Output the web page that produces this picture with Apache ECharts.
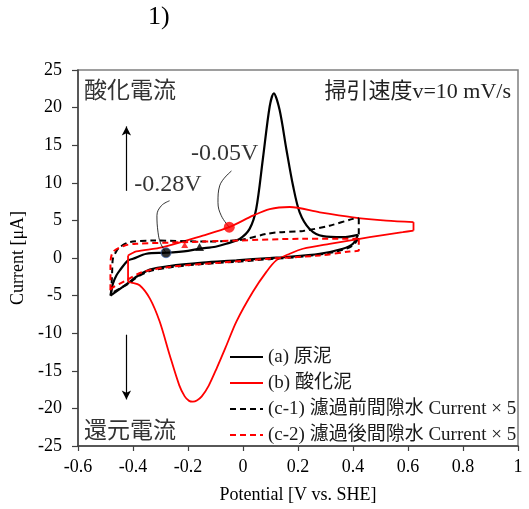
<!DOCTYPE html>
<html>
<head>
<meta charset="utf-8">
<script src="https://cdn.jsdelivr.net/npm/echarts@6/dist/echarts.min.js"></script>
<style>
  html, body { margin: 0; padding: 0; background: #fff; }
  #chart { width: 529px; height: 509px; }
</style>
</head>
<body>
<div id="chart"></div>
<script>
// ---- axis ranges: [min, max, step] ----
const potentialAxis = [-0.6, 1.0, 0.2];
const currentAxis = [-25, 25, 5];

// ---- series names ----
const nameA = '(a) 原泥';
const nameB = '(b) 酸化泥';
const nameC1 = '(c-1) 濾過前間隙水 Current × 5';
const nameC2 = '(c-2) 濾過後間隙水 Current × 5';

// ---- (a) 原泥: anodic sweep, then cathodic sweep [V vs. SHE], [μA] ----
const aAnodicV = [-0.482, -0.473, -0.460, -0.448, -0.418, -0.400, -0.351, -0.280, -0.200, -0.158, -0.100, -0.061, -0.012, 0.024, 0.048, 0.072, 0.097, 0.112, 0.133, 0.158, 0.182, 0.206, 0.242, 0.291, 0.363, 0.418];
const aAnodicI = [-5.0, -3.4, -2.3, -1.64, -0.32, -0.1, 0.57, 0.70, 0.95, 1.23, 1.5, 1.89, 2.55, 3.87, 6.51, 13.1, 20.15, 21.9, 19.7, 14.4, 9.6, 6.07, 3.87, 2.9, 2.77, 3.08];
const aCathodicV = [0.418, 0.400, 0.363, 0.279, 0.158, 0.097, -0.024, -0.146, -0.267, -0.339, -0.388, -0.412, -0.482];
const aCathodicI = [3.08, 1.89, 1.23, 0.57, 0.13, 0.0, -0.32, -0.62, -1.06, -1.55, -2.5, -3.17, -5.0];

// ---- (b) 酸化泥 ----
const bLeftV = [-0.418, -0.418];
const bLeftI = [-3.17, 0.34];
const bAnodicV = [-0.418, -0.405, -0.388, -0.291, -0.146, -0.050, 0.036, 0.097, 0.170, 0.279, 0.400, 0.521, 0.620];
const bAnodicI = [0.34, 0.6, 0.87, 1.45, 2.98, 4.1, 5.63, 6.51, 6.78, 6.07, 5.41, 4.97, 4.77];
const bRightV = [0.620, 0.620];
const bRightI = [4.77, 3.65];
const bCathodicV = [0.620, 0.581, 0.497, 0.424, 0.315, 0.218, 0.170, 0.121, 0.085, 0.036, -0.024, -0.060, -0.095, -0.125, -0.150, -0.168, -0.182, -0.196, -0.212, -0.232, -0.267, -0.303, -0.339, -0.376, -0.406, -0.418];
const bCathodicI = [3.65, 3.43, 2.98, 2.55, 1.89, 1.23, 0.57, -0.32, -1.85, -4.49, -8.45, -11.6, -14.6, -17.0, -18.4, -18.95, -19.1, -19.0, -18.4, -16.9, -12.86, -8.45, -5.37, -3.62, -3.26, -3.17];

// ---- (c-1) 濾過前間隙水 (current x5) ----
const c1AnodicV = [-0.479, -0.476, -0.473, -0.462, -0.448, -0.412, -0.327, -0.146, -0.012, 0.085, 0.133, 0.218, 0.315, 0.400, 0.421];
const c1AnodicI = [-4.7, -2.0, -0.09, 0.8, 1.45, 2.11, 2.32, 2.19, 2.4, 3.2, 3.43, 3.6, 4.3, 5.2, 5.28];
const c1CathodicV = [0.421, 0.421, 0.400, 0.339, 0.218, 0.097, -0.024, -0.146, -0.267, -0.339, -0.388, -0.412, -0.479];
const c1CathodicI = [5.28, 3.0, 1.7, 0.85, 0.2, -0.15, -0.5, -0.8, -1.25, -1.75, -2.6, -3.3, -4.7];

// ---- (c-2) 濾過後間隙水 (current x5) ----
const c2AnodicV = [-0.482, -0.482, -0.473, -0.430, -0.388, -0.206, -0.024, 0.218, 0.412, 0.421];
const c2AnodicI = [-4.3, -1.0, 0.79, 1.66, 1.89, 2.11, 2.32, 2.55, 2.55, 2.55];
const c2CathodicV = [0.421, 0.421, 0.388, 0.279, 0.097, -0.085, -0.267, -0.364, -0.424, -0.479, -0.482];
const c2CathodicI = [2.55, 1.0, 0.87, 0.34, -0.09, -0.62, -1.19, -1.85, -2.96, -4.05, -4.3];

// ---- onset markers ----
const onsetA = [-0.28, 0.70];
const onsetB = [-0.05, 4.1];
const triA = [-0.158, 1.45];
const triC2 = [-0.212, 1.72];

// ---- annotations (data coordinates) ----
const labelA = [-0.273, 9.77, '-0.28V'];
const labelB = [-0.067, 13.9, '-0.05V'];
const leaderA = [[-0.28, 0.7], [-0.300, 2.0], [-0.309, 3.43], [-0.313, 5.63], [-0.297, 6.95], [-0.267, 7.61]];
const leaderB = [[-0.05, 4.1], [-0.079, 5.63], [-0.091, 7.4], [-0.085, 9.59], [-0.042, 11.57]];
const arrowUp = [[-0.424, 8.93], [-0.424, 17.5]];
const arrowDown = [[-0.424, -10.2], [-0.424, -18.8]];

const SERIF = "'Liberation Serif', 'Times New Roman', 'Noto Sans CJK JP', serif";
const CJK = "'Noto Sans CJK JP', 'Noto Sans CJK SC', sans-serif";
const NONE = 'rgba(0,0,0,0)';

function zip(vs, is) { return vs.map((v, k) => [v, is[k]]); }

function branch(name, vs, is, color, dashed, width) {
  return {
    type: 'line', name: name, data: zip(vs, is),
    smooth: 0.3, symbol: 'none', silent: true,
    lineStyle: { color: color, width: width, type: dashed ? [6, 4] : 'solid' },
    itemStyle: { color: NONE, borderWidth: 0 },
    z: dashed ? 3 : 2
  };
}

const series = [
  branch(nameA, aAnodicV, aAnodicI, '#000000', false, 2.2),
  branch(nameA, aCathodicV, aCathodicI, '#000000', false, 2.2),
  branch(nameB, bLeftV, bLeftI, '#ff0000', false, 1.8),
  branch(nameB, bAnodicV, bAnodicI, '#ff0000', false, 1.8),
  branch(nameB, bRightV, bRightI, '#ff0000', false, 1.8),
  branch(nameB, bCathodicV, bCathodicI, '#ff0000', false, 1.8),
  branch(nameC1, c1AnodicV, c1AnodicI, '#000000', true, 2),
  branch(nameC1, c1CathodicV, c1CathodicI, '#000000', true, 2),
  branch(nameC2, c2AnodicV, c2AnodicI, '#ff0000', true, 2),
  branch(nameC2, c2CathodicV, c2CathodicI, '#ff0000', true, 2),
  // leader lines and arrows
  {
    type: 'line', data: leaderA, smooth: 0.4, symbol: 'none', silent: true,
    lineStyle: { color: '#000', width: 0.8 }, z: 4,
    markLine: {
      silent: true, animation: false, symbol: ['none', 'arrow'], symbolSize: [7, 9],
      lineStyle: { color: '#000', width: 1.2, type: 'solid' },
      label: { show: false },
      data: [
        [{ coord: arrowUp[0] }, { coord: arrowUp[1] }],
        [{ coord: arrowDown[0] }, { coord: arrowDown[1] }]
      ]
    }
  },
  {
    type: 'line', data: leaderB, smooth: 0.4, symbol: 'none', silent: true,
    lineStyle: { color: '#000', width: 0.8 }, z: 4
  },
  // onset markers
  {
    type: 'scatter', silent: true, z: 6, data: [onsetA], symbol: 'circle', symbolSize: 10,
    itemStyle: { color: '#000', borderColor: '#4a6fb5', borderWidth: 1 }
  },
  {
    type: 'scatter', silent: true, z: 6, data: [onsetB], symbol: 'circle', symbolSize: 11,
    itemStyle: { color: '#ff0000' }
  },
  {
    type: 'scatter', silent: true, z: 6, data: [triA], symbol: 'triangle', symbolSize: [9, 8],
    itemStyle: { color: '#000' }
  },
  {
    type: 'scatter', silent: true, z: 6, data: [triC2], symbol: 'triangle', symbolSize: [7, 6],
    itemStyle: { color: '#ff0000' }
  },
  // potential labels
  {
    type: 'scatter', silent: true, z: 7, data: [labelA, labelB], symbolSize: 0,
    label: {
      show: true, position: 'inside', formatter: p => p.data[2],
      fontFamily: SERIF, fontSize: 24, color: '#000'
    }
  }
];

const chart = echarts.init(document.getElementById('chart'), null, { renderer: 'canvas' });
chart.setOption({
  animation: false,
  backgroundColor: '#ffffff',
  grid: {
    left: 78, right: 11, top: 70, bottom: 60,
    show: true, borderColor: '#7f7f7f', borderWidth: 1.5, backgroundColor: 'transparent'
  },
  xAxis: {
    type: 'value', min: potentialAxis[0], max: potentialAxis[1], interval: potentialAxis[2],
    name: 'Potential [V vs. SHE]', nameLocation: 'middle', nameGap: 40,
    nameTextStyle: { fontFamily: SERIF, fontSize: 18, color: '#000' },
    axisLine: { show: true, onZero: false, lineStyle: { color: '#404040', width: 1.5 } },
    axisTick: { show: true, inside: false, length: 5, lineStyle: { color: '#404040', width: 1.2 } },
    axisLabel: { fontFamily: SERIF, fontSize: 18, color: '#000', margin: 12 },
    splitLine: { show: false }
  },
  yAxis: {
    type: 'value', min: currentAxis[0], max: currentAxis[1], interval: currentAxis[2],
    name: 'Current [μA]', nameLocation: 'middle', nameGap: 41,
    nameTextStyle: { fontFamily: SERIF, fontSize: 18, color: '#000' },
    axisLine: { show: true, onZero: false, lineStyle: { color: '#404040', width: 1.5 } },
    axisTick: { show: true, inside: false, length: 6, lineStyle: { color: '#404040', width: 1.2 } },
    axisLabel: { fontFamily: SERIF, fontSize: 18, color: '#000', margin: 16 },
    splitLine: { show: false }
  },
  legend: {
    data: [nameA, nameB, nameC1, nameC2],
    orient: 'vertical', left: 229, top: 347,
    itemWidth: 33, itemHeight: 14, itemGap: 6, padding: 0,
    selectedMode: false,
    itemStyle: { color: NONE, borderWidth: 0 },
    textStyle: { fontFamily: SERIF, fontSize: 19, lineHeight: 20, color: '#1a1a1a' }
  },
  graphic: [
    { type: 'text', left: 148, top: 4, silent: true,
      style: { text: '1)', fontFamily: SERIF, fontSize: 26, fill: '#000' } },
    { type: 'text', x: 84, y: 89, silent: true,
      style: { text: '酸化電流', fontFamily: CJK, fontSize: 23, fill: '#333',
               textAlign: 'left', textVerticalAlign: 'middle' } },
    { type: 'text', x: 84, y: 429, silent: true,
      style: { text: '還元電流', fontFamily: CJK, fontSize: 23, fill: '#333',
               textAlign: 'left', textVerticalAlign: 'middle' } },
    { type: 'text', x: 511, y: 92, silent: true,
      style: { text: '掃引速度v=10 mV/s', fontFamily: SERIF, fontSize: 22, fill: '#222',
               textAlign: 'right', textVerticalAlign: 'middle' } }
  ],
  series: series
});
</script>
</body>
</html>
